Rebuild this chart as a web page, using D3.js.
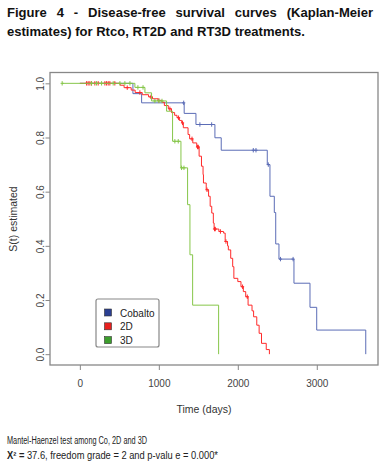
<!DOCTYPE html>
<html><head><meta charset="utf-8">
<script src="https://cdn.jsdelivr.net/npm/d3@7"></script>
<style>
body{margin:0;background:#fff;}
svg{display:block;}
</style></head>
<body>
<script>
// ---- data ----
const groups = ["Cobalto", "2D", "3D"];
const xTicks = [0, 1000, 2000, 3000];
const yTicks = [0, 0.2, 0.4, 0.6, 0.8, 1.0];

const coTimes = [0, 672, 782, 1321, 1470, 1710, 1790, 2373, 2407, 2462, 2480, 2521, 2711, 2914, 2999, 3620];
const coSurv  = [1.0, 0.962, 0.928, 0.889, 0.848, 0.799, 0.753, 0.700, 0.583, 0.523, 0.407, 0.351, 0.262, 0.173, 0.089, 0.0];
const coCens  = [1315, 1520, 1669, 2196, 2230, 2386, 2540, 2700];

const d2Times = [0, 510, 560, 650, 700, 790, 870, 920, 990, 1040, 1070, 1120, 1160, 1200, 1230, 1260, 1290, 1310, 1370, 1390, 1430, 1480, 1510, 1540, 1560, 1565, 1600, 1630, 1650, 1670, 1690, 1700, 1760, 1820, 1840, 1870, 1880, 1910, 1935, 1950, 2000, 2040, 2070, 2100, 2130, 2180, 2200, 2240, 2270, 2300, 2360, 2400];
const d2Surv  = [1.0, 0.993, 0.984, 0.975, 0.966, 0.958, 0.950, 0.943, 0.937, 0.930, 0.918, 0.906, 0.892, 0.882, 0.873, 0.863, 0.854, 0.836, 0.811, 0.795, 0.780, 0.765, 0.731, 0.694, 0.663, 0.632, 0.607, 0.583, 0.546, 0.521, 0.484, 0.462, 0.453, 0.447, 0.416, 0.400, 0.385, 0.354, 0.323, 0.280, 0.268, 0.249, 0.231, 0.212, 0.181, 0.160, 0.138, 0.107, 0.077, 0.040, 0.017, 0.0];
const d2Cens  = [85, 105, 127, 148, 190, 232, 317, 338, 359, 380, 443, 600, 760, 900, 1000, 1140, 1250, 1300, 1420, 1490, 1500, 1610, 1705, 1715, 1780, 1850, 2060, 2120];

const d3Times = [-224, 697, 824, 908, 1098, 1174, 1280, 1364, 1394, 1428, 1757];
const d3Surv  = [1.0, 0.985, 0.965, 0.935, 0.897, 0.786, 0.688, 0.552, 0.367, 0.181, 0.0];
const d3Cens  = [-224, 148, 211, 275, 422, 507, 570, 634, 735, 800, 950, 1000, 1040, 1203, 1246, 1288, 1318];

const lineColors = ["#5b6cb6", "#ff2a2a", "#86c64a"];
const legendColors = ["#2b3f92", "#e8201e", "#3c9e2c"];

// ---- drawing ----
const W = 380, H = 467;
const svg = d3.select("body").append("svg").attr("width", W).attr("height", H);

// title: condensed bold, first line justified
const titleFont = "'Liberation Sans',Arial,sans-serif";
const tg = svg.append("g").attr("font-family", titleFont).attr("font-weight", "bold")
  .attr("font-size", 13.5).attr("fill", "#111");
const line2 = tg.append("text").attr("x", 7).attr("y", 35.5)
  .text("estimates) for Rtco, RT2D and RT3D treatments.");
const nat2 = line2.node().getComputedTextLength();
const squeeze = 298 / nat2;
line2.attr("textLength", 298).attr("lengthAdjust", "spacingAndGlyphs");
const t1 = "Figure 4 - Disease-free survival curves (Kaplan-Meier".split(" ");
const words = t1.map(w => tg.append("text").attr("y", 17).text(w));
const widths = words.map(t => t.node().getComputedTextLength() * squeeze);
const total = widths.reduce((a, b) => a + b, 0);
const gap = (366 - total) / (t1.length - 1);
let cx = 7;
words.forEach((t, i) => {
  t.attr("x", cx).attr("textLength", widths[i]).attr("lengthAdjust", "spacingAndGlyphs");
  cx += widths[i] + gap;
});

// scales
const x = d3.scaleLinear().domain([-378, 3775]).range([50, 378]);
const y = d3.scaleLinear().domain([-0.04, 1.04]).range([365, 72.5]);

const axisFont = "'Liberation Sans','Arial',sans-serif";

// axes
const gx = svg.append("g").attr("transform", `translate(0,${y(-0.04)})`)
  .call(d3.axisBottom(x).tickValues(xTicks).tickFormat(d3.format("d")).tickSize(5).tickSizeOuter(0));
const gy = svg.append("g").attr("transform", `translate(${x(-378)},0)`)
  .call(d3.axisLeft(y).tickValues(yTicks).tickFormat(d3.format(".1f")).tickSize(4.5).tickSizeOuter(0));
[gx, gy].forEach(g => {
  g.select(".domain").remove();
  g.selectAll(".tick line").attr("stroke", "#888");
  g.selectAll(".tick text").attr("fill", "#444").attr("font-family", axisFont).attr("font-size", 10);
});
gx.selectAll(".tick text").attr("dy", "0").attr("y", 21.5);
gy.selectAll(".tick text")
  .attr("text-anchor", "middle")
  .attr("x", null).attr("dy", null)
  .attr("transform", "translate(-9.5,0) rotate(-90)")
  .attr("y", 3.5);

// box
svg.append("rect").attr("x", x(-378)).attr("y", y(1.04))
  .attr("width", x(3775) - x(-378)).attr("height", y(-0.04) - y(1.04))
  .attr("fill", "none").attr("stroke", "#888").attr("stroke-width", 1.3);

// axis titles
svg.append("text").attr("x", 204).attr("y", 412.5).attr("text-anchor", "middle")
  .attr("font-family", axisFont).attr("font-size", 10.5).attr("fill", "#333").text("Time (days)");
svg.append("text").attr("transform", "translate(17,219) rotate(-90)").attr("text-anchor", "middle")
  .attr("font-family", axisFont).attr("font-size", 10.5).attr("fill", "#333").text("S(t) estimated");

// curves
const series = [
  {t: coTimes, s: coSurv, c: coCens},
  {t: d2Times, s: d2Surv, c: d2Cens},
  {t: d3Times, s: d3Surv, c: d3Cens}
];
const line = d3.line().x(d => x(d[0])).y(d => y(d[1])).curve(d3.curveStepAfter);
function survAt(ser, tt) {
  let v = ser.s[0];
  for (let i = 0; i < ser.t.length; i++) { if (ser.t[i] <= tt) v = ser.s[i]; }
  return v;
}
series.forEach((ser, i) => {
  const pts = ser.t.map((tt, j) => [tt, ser.s[j]]);
  svg.append("path").attr("d", line(pts)).attr("fill", "none")
    .attr("stroke", lineColors[i]).attr("stroke-width", 1);
  const g = svg.append("g").attr("stroke", lineColors[i]).attr("stroke-width", 1);
  ser.c.forEach(ct => {
    const px = x(ct), py = y(survAt(ser, ct));
    g.append("line").attr("x1", px).attr("x2", px).attr("y1", py - 2.2).attr("y2", py + 2.2);
    g.append("line").attr("x1", px - 1.6).attr("x2", px + 1.6).attr("y1", py).attr("y2", py);
  });
});

// legend
const lg = svg.append("g");
lg.append("rect").attr("x", 96).attr("y", 299).attr("width", 63).attr("height", 48)
  .attr("rx", 2).attr("fill", "#fff").attr("stroke", "#888").attr("stroke-width", 1.2);
groups.forEach((gname, i) => {
  const yy = 313 + i * 13.8;
  lg.append("rect").attr("x", 104.5).attr("y", yy - 4).attr("width", 7).attr("height", 7)
    .attr("fill", legendColors[i]).attr("stroke", "#333").attr("stroke-width", 0.6);
  lg.append("text").attr("x", 120).attr("y", yy + 3.5).attr("font-family", axisFont)
    .attr("font-size", 10).attr("fill", "#222").text(gname);
});

// footer
svg.append("text").attr("x", 7).attr("y", 444).attr("font-family", axisFont).attr("font-size", 10)
  .attr("fill", "#222").attr("textLength", 140).attr("lengthAdjust", "spacingAndGlyphs")
  .text("Mantel-Haenzel test among Co, 2D and 3D");
const f2 = svg.append("text").attr("x", 7).attr("y", 458.5).attr("font-family", axisFont).attr("font-size", 10)
  .attr("fill", "#222").attr("textLength", 211).attr("lengthAdjust", "spacingAndGlyphs");
f2.append("tspan").attr("font-weight", "bold").text("X² =");
f2.append("tspan").text(" 37.6, freedom grade = 2 and p-valu e = 0.000*");
</script>
</body></html>
